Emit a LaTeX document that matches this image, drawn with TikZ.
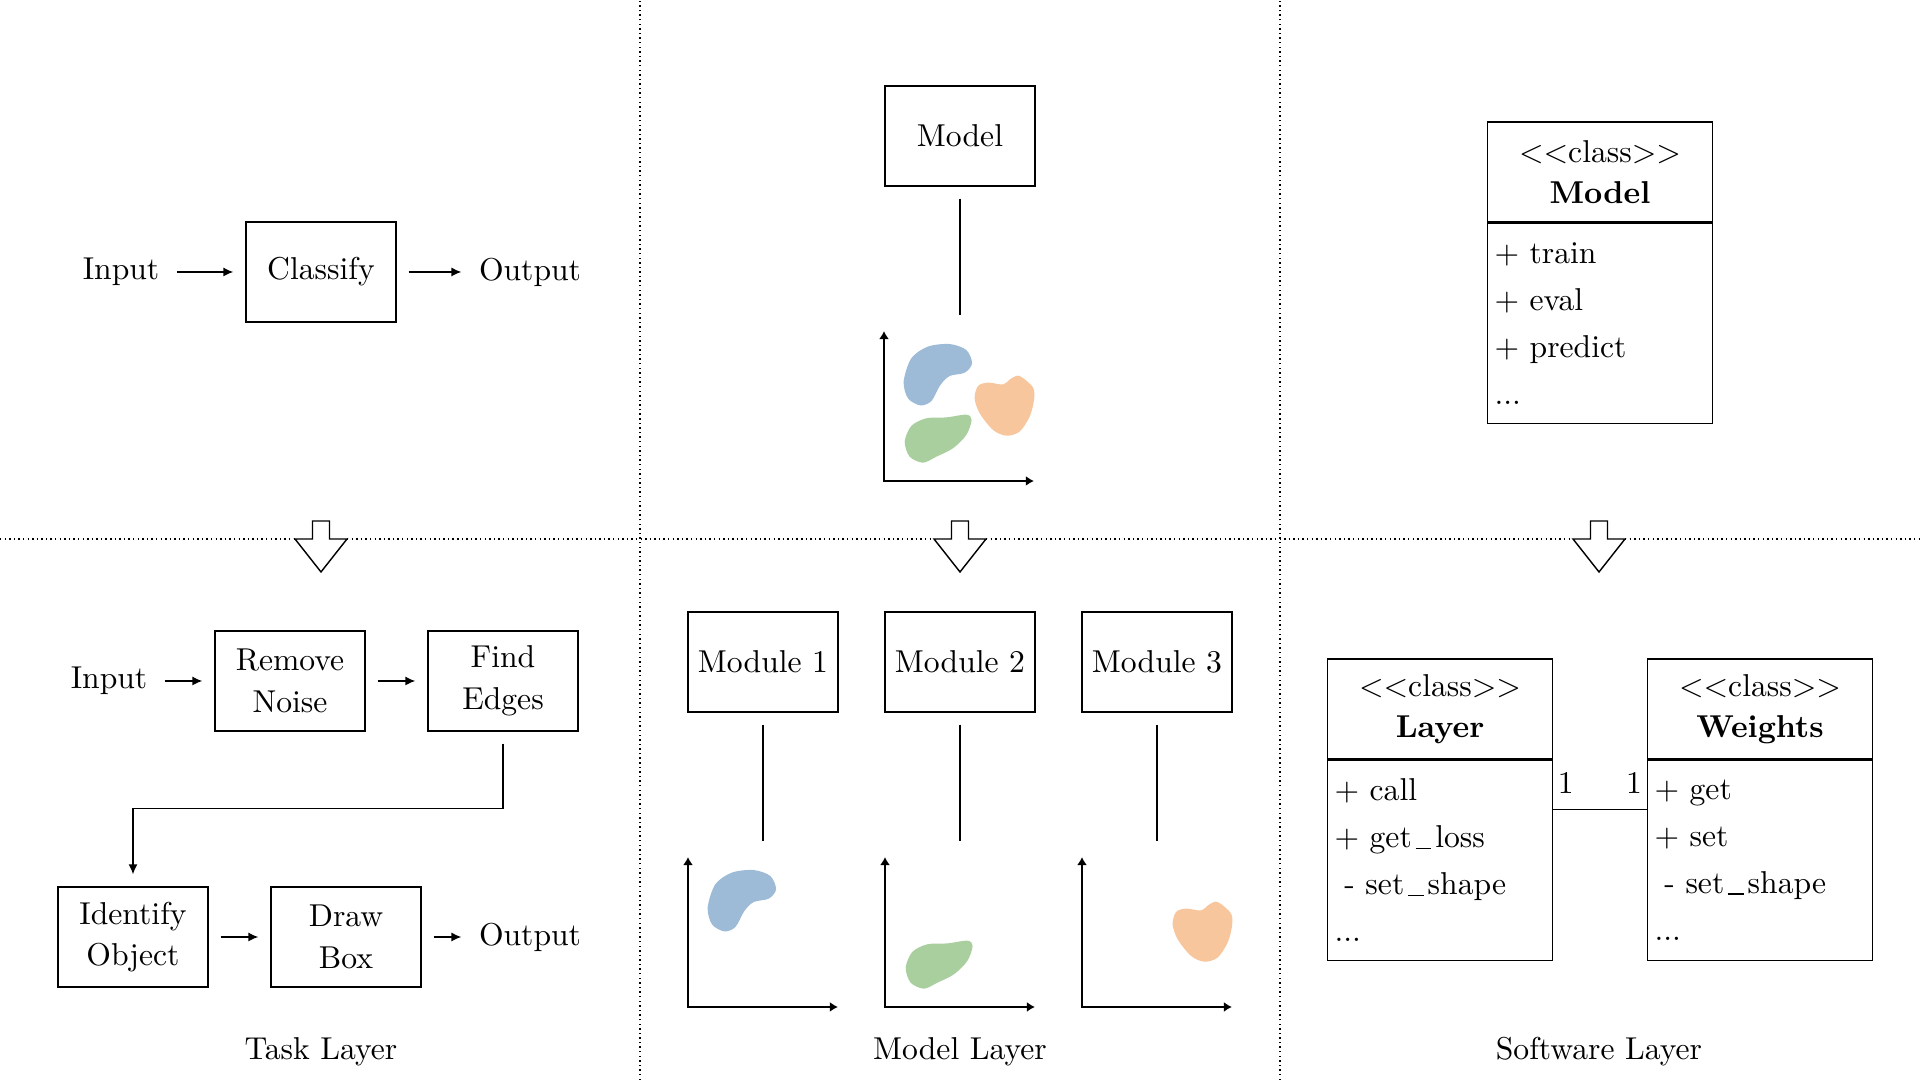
\documentclass[tikz,border=0pt]{standalone}
\usepackage{tikz}
\usetikzlibrary{arrows.meta}
\definecolor{blobblue}{RGB}{157,186,214}
\definecolor{bloborange}{RGB}{247,198,156}
\definecolor{blobgreen}{RGB}{169,207,159}
\def\usc{\kern.12em\lower.3pt\vbox{\hrule width.5em height.4pt}\kern.12em}
\def\axes(#1){\draw[axis, shift={(#1)}] (0,1.5) -- (0,0) -- (1.5,0);}
\def\blueblob(#1){\fill[blobblue, shift={(#1)}, scale=1.5] plot[smooth cycle] coordinates {(0.438,0.913) (0.549,0.873) (0.587,0.784) (0.538,0.722) (0.438,0.700) (0.376,0.640) (0.316,0.533) (0.242,0.504) (0.160,0.551) (0.131,0.662) (0.182,0.818) (0.293,0.896)};}
\def\orangeblob(#1){\fill[bloborange, shift={(#1)}, scale=1.5] plot[smooth cycle] coordinates {(0.904,0.700) (0.993,0.624) (1.000,0.540) (0.971,0.429) (0.904,0.329) (0.816,0.302) (0.727,0.340) (0.638,0.451) (0.604,0.551) (0.627,0.633) (0.693,0.656) (0.793,0.644) (0.849,0.684)};}
\def\greenblob(#1){\fill[blobgreen, shift={(#1)}, scale=1.5] plot[smooth cycle] coordinates {(0.549,0.442) (0.584,0.407) (0.549,0.307) (0.460,0.218) (0.349,0.162) (0.260,0.122) (0.171,0.162) (0.138,0.262) (0.182,0.367) (0.282,0.418) (0.416,0.424)};}
\def\hollowarrow(#1){\draw[fill=white, shift={(#1)}] (-0.085,0.18) -- (0.085,0.18) -- (0.085,0) -- (0.26,0) -- (0,-0.33) -- (-0.26,0) -- (-0.085,0) -- cycle;}

\begin{document}
\begin{tikzpicture}[x=1.1111cm, y=1.1111cm, line width=0.45pt,
		plain/.style={inner sep=0.55mm},
		taskbox/.style={draw, align=center, inner xsep=2pt, minimum width=1.6667cm, minimum height=1.1111cm},
		classhead/.style={draw, align=center, minimum width=2.5cm, minimum height=1.1111cm},
		classbody/.style={draw, align=left, text width=2.344cm, inner xsep=0.78mm, minimum height=2.2222cm},
		mult/.style={inner xsep=0.45mm, inner ysep=1.67mm},
		flow/.style={-{Latex[length=1.1mm,width=1mm]}, shorten <=1.33mm, shorten >=1.33mm},
		axis/.style={line width=0.67pt, {Latex[length=0.9mm,width=1.1mm]}-{Latex[length=0.9mm,width=1.1mm]}},
		sep/.style={densely dotted}
	]
		\useasboundingbox (0,0) rectangle (19.2,10.8);
		
		%%%%% GRID %%%%%
		
		\draw[sep] (6.40,0) -- (6.40,10.8);
		\draw[sep] (12.80,0) -- (12.80,10.8);
		\draw[sep] (0,5.41) -- (2.95,5.41) (3.47,5.41) -- (9.34,5.41) (9.86,5.41) -- (15.73,5.41) (16.25,5.41) -- (19.2,5.41);
		
		\hollowarrow(3.21,5.41)
		\hollowarrow(9.60,5.41)
		\hollowarrow(15.99,5.41)
		
		%%%%% TASK LAYER %%%%%
		
		\node[plain] (in1) at (1.21,8.08) {Input};
		\node[taskbox] (classify) at (3.21,8.08) {Classify};
		\node[plain] (out1) at (5.30,8.08) {Output};
		\draw[flow] (in1) -- (classify);
		\draw[flow] (classify) -- (out1);
		
		\node[plain] (in2) at (1.09,3.99) {Input};
		\node[taskbox] (removenoise) at (2.90,3.99) {Remove\\[0.4mm]Noise};
		\node[taskbox] (findedges) at (5.03,3.99) {Find\\[0.4mm]Edges};
		\node[taskbox] (identify) at (1.33,1.43) {Identify\\[0.4mm]Object};
		\node[taskbox] (drawbox) at (3.46,1.43) {Draw\\[0.4mm]Box};
		\node[plain] (out2) at (5.30,1.43) {Output};
		\draw[flow] (in2) -- (removenoise);
		\draw[flow] (removenoise) -- (findedges);
		\draw[flow] (findedges.south) -- ++(0,-0.77) -| (identify.north);
		\draw[flow] (identify) -- (drawbox);
		\draw[flow] (drawbox) -- (out2);
		
		\node[plain] (tasklabel) at (3.21,0.28) {Task Layer};
		
		%%%%% MODEL LAYER %%%%%
		
		\node[taskbox] (model) at (9.60,9.44) {Model};
		\coordinate (mtop) at (9.60,7.65);
		\draw[shorten <=1.33mm] (model) -- (mtop);
		\axes(8.84,5.99)
		\blueblob(8.84,5.99)
		\orangeblob(8.84,5.99)
		\greenblob(8.84,5.99)
		
		\node[taskbox] (mod1) at (7.63,4.18) {Module 1};
		\node[taskbox] (mod2) at (9.60,4.18) {Module 2};
		\node[taskbox] (mod3) at (11.57,4.18) {Module 3};
		\coordinate (c1) at (7.63,2.39);
		\coordinate (c2) at (9.60,2.39);
		\coordinate (c3) at (11.57,2.39);
		\draw[shorten <=1.33mm] (mod1) -- (c1);
		\draw[shorten <=1.33mm] (mod2) -- (c2);
		\draw[shorten <=1.33mm] (mod3) -- (c3);
		
		\axes(6.88,0.73)
		\blueblob(6.88,0.73)
		\axes(8.85,0.73)
		\greenblob(8.85,0.73)
		\axes(10.82,0.73)
		\orangeblob(10.82,0.73)
		
		\node[plain] (modellabel) at (9.60,0.28) {Model Layer};
		
		%%%%% SOFTWARE LAYER %%%%%
		
		\node[classhead] (modelhead) at (16.00,9.08) {$<<$class$>>$\\[0.4mm]\textbf{Model}};
		\node[classbody, anchor=north] (modelbody) at (modelhead.south) {+ train\\[1mm]+ eval\\[1mm]+ predict\\[1mm]...};
		
		\node[classhead] (layerhead) at (14.40,3.71) {$<<$class$>>$\\[0.4mm]\textbf{Layer}};
		\node[classbody, anchor=north] (layerbody) at (layerhead.south) {+ call\\[1mm]+ get\usc loss\\[1mm]\hspace*{1.1mm}- set\usc shape\\[1mm]...};
		
		\node[classhead] (weightshead) at (17.60,3.71) {$<<$class$>>$\\[0.4mm]\textbf{Weights}};
		\node[classbody, anchor=north] (weightsbody) at (weightshead.south) {+ get\\[1mm]+ set\\[1mm]\hspace*{1.1mm}- set\usc shape\\[1mm]...};
		
		\draw ([yshift=5.67mm]layerbody.east) -- ([yshift=5.67mm]weightsbody.west) node[mult, pos=0, anchor=south west] {1} node[mult, pos=1, anchor=south east] {1};
		
		\node[plain] (softlabel) at (15.99,0.28) {Software Layer};
		
	\end{tikzpicture}
\end{document}
